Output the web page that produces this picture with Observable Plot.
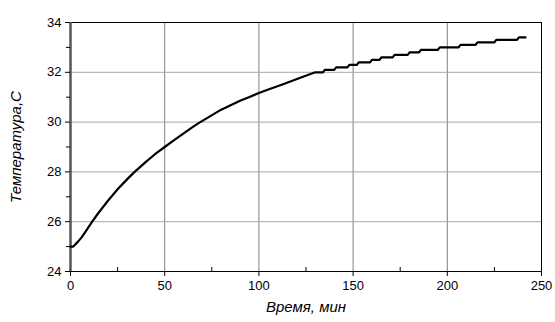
<!DOCTYPE html>
<html>
<head>
<meta charset="utf-8">
<script src="https://cdn.jsdelivr.net/npm/d3@7"></script>
<script src="https://cdn.jsdelivr.net/npm/@observablehq/plot@0.6"></script>
<style>
  html, body { margin: 0; padding: 0; background: #fff; }
  #chart svg { display: block; font-family: "Liberation Sans", Arial, sans-serif; }
  #chart g[aria-label="x-axis label"] text,
  #chart g[aria-label="y-axis label"] text { font-style: italic; font-size: 15px; fill: #000; }
  #chart g[aria-label="x-axis tick label"] text,
  #chart g[aria-label="y-axis tick label"] text { fill: #000; }
</style>
</head>
<body>
<div id="chart"></div>
<script>
// Time (min) and temperature (°C)
const times = [0, 1.5, 4, 6, 8, 11.5, 15, 20, 25, 30, 33.6, 40, 45, 50, 55, 61, 64, 68, 72, 76, 80, 85, 90, 95, 100,
  105, 111, 116, 122, 127, 130, 134, 135, 140, 141, 147, 148, 152, 153, 159, 160, 164, 165, 171,
  172, 179, 180, 185, 186, 195, 196, 206, 207, 215, 216, 225, 226, 237, 238, 241.5];
const temps = [25.0, 25.0, 25.2, 25.38, 25.6, 26.0, 26.37, 26.85, 27.3, 27.7, 27.97, 28.4, 28.72, 29.0, 29.28, 29.6, 29.76, 29.96, 30.14, 30.32, 30.5, 30.68, 30.86, 31.01, 31.17,
  31.31, 31.47, 31.61, 31.78, 31.92, 32.0, 32.0, 32.1, 32.1, 32.2, 32.2, 32.3, 32.3, 32.4, 32.4, 32.5, 32.5, 32.6, 32.6,
  32.7, 32.7, 32.8, 32.8, 32.9, 32.9, 33.0, 33.0, 33.1, 33.1, 33.2, 33.2, 33.3, 33.3, 33.4, 33.4];

const xMajor = [0, 50, 100, 150, 200, 250];
const xMinor = [25, 75, 125, 175, 225];
const yMajor = [24, 26, 28, 30, 32, 34];
const yMinor = [25, 27, 29, 31, 33];
const xLabel = "Время, мин";
const yLabel = "Температура,С";

const data = times.map((t, i) => ({t, v: temps[i]}));

const W = 555, H = 322, mt = 22, mb = 51, ml = 70, mr = 14;
const innerH = H - mt - mb;

const chart = Plot.plot({
  width: W,
  height: H,
  marginTop: mt,
  marginBottom: mb,
  marginLeft: ml,
  marginRight: mr,
  style: { background: "#fff", fontSize: "13px", color: "#000" },
  x: { domain: [0, 250] },
  y: { domain: [24, 34] },
  marks: [
    Plot.gridX(xMajor, { stroke: "#808080", strokeOpacity: 1 }),
    Plot.gridY(yMajor, { stroke: "#a8a8a8", strokeOpacity: 1 }),
    Plot.frame({ stroke: "#000", strokeWidth: 1 }),
    Plot.ruleX([0], { stroke: "#555", strokeWidth: 2.5 }),
    Plot.ruleY([24], { stroke: "#000", strokeWidth: 1.2 }),
    Plot.tickX(xMinor, { x: d => d, insetTop: innerH - 4, stroke: "#000" }),
    Plot.axisX(xMajor, { tickSize: 5, tickPadding: 4, fontSize: 13, label: xLabel, labelAnchor: "center", labelOffset: 40, labelArrow: "none" }),
    Plot.axisY(yMajor, { tickSize: 5, tickPadding: 4, fontSize: 13, label: yLabel, labelAnchor: "center", labelOffset: 60, labelArrow: "none" }),
    Plot.axisY(yMinor, { tickSize: 4, tickFormat: () => "", label: null }),
    Plot.line(data, { x: "t", y: "v", stroke: "#000", strokeWidth: 2.2 })
  ]
});
document.getElementById("chart").appendChild(chart);
</script>
</body>
</html>
